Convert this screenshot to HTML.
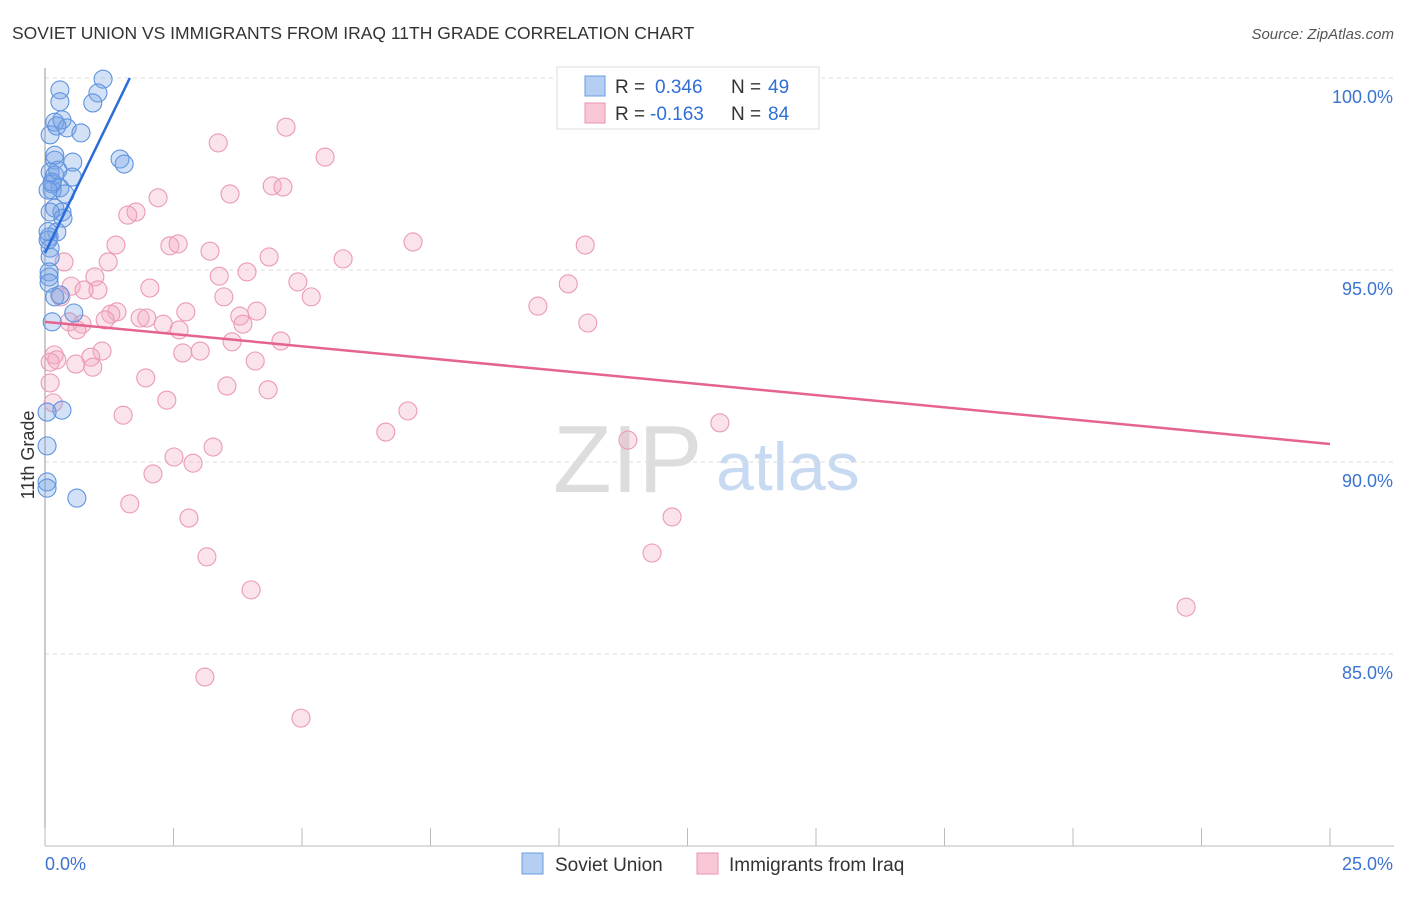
<!DOCTYPE html>
<html><head><meta charset="utf-8"><style>
body{margin:0;background:#fff;font-family:"Liberation Sans",sans-serif;}
svg text{font-family:"Liberation Sans",sans-serif;}
</style></head><body>
<svg id="chart" width="1406" height="892">
<text x="12" y="39" font-size="17.5" fill="#333">SOVIET UNION VS IMMIGRANTS FROM IRAQ 11TH GRADE CORRELATION CHART</text>
<text x="1394" y="39" font-size="15" fill="#555" text-anchor="end" font-style="italic">Source: ZipAtlas.com</text>
<g>
<text x="553" y="492" font-size="96" fill="#ddd" font-family="Liberation Serif">ZIP</text>
<text x="716" y="490" font-size="68" fill="#c8daf2">atlas</text>
</g>
<g id="grid"></g><g id="axes"></g><g id="marks"></g>
<text transform="translate(34,455) rotate(-90)" font-size="18" fill="#333" text-anchor="middle">11th Grade</text>
<g>
<rect x="557" y="67" width="262" height="62" fill="#fff" stroke="#ddd"/>
<rect x="585" y="76" width="20" height="20" fill="#b5cff3" stroke="#6b9be0"/>
<rect x="585" y="103" width="20" height="20" fill="#f9c6d5" stroke="#ea95b0"/>
<text x="615" y="93" font-size="19" fill="#333">R =</text>
<text x="655" y="93" font-size="19" fill="#2f6fd6">0.346</text>
<text x="731" y="93" font-size="19" fill="#333">N =</text>
<text x="768" y="93" font-size="19" fill="#2f6fd6">49</text>
<text x="615" y="120" font-size="19" fill="#333">R =</text>
<text x="650" y="120" font-size="19" fill="#2f6fd6">-0.163</text>
<text x="731" y="120" font-size="19" fill="#333">N =</text>
<text x="768" y="120" font-size="19" fill="#2f6fd6">84</text>
</g>
<g>
<rect x="522" y="853" width="21" height="21" fill="#b5cff3" stroke="#6b9be0"/>
<text x="555" y="871" font-size="19" fill="#333">Soviet Union</text>
<rect x="697" y="853" width="21" height="21" fill="#f9c6d5" stroke="#ea95b0"/>
<text x="729" y="871" font-size="19" fill="#333">Immigrants from Iraq</text>
</g>
</svg>
<script>
const xTicks=[0,2.5,5,7.5,10,12.5,15,17.5,20,22.5,25];
const yTicks=[85,90,95,100];
const yTickLabels=["85.0%","90.0%","95.0%","100.0%"];
const blueX=[1.13,0.29,1.03,0.29,0.93,0.19,0.33,0.43,0.70,0.10,1.46,1.54,0.19,0.54,0.10,0.19,0.53,0.14,0.29,0.14,0.39,0.19,0.33,0.35,0.23,0.08,0.10,0.10,0.08,0.08,0.08,0.19,0.29,0.56,0.14,0.33,0.04,0.04,0.04,0.04,0.62,0.14,0.06,0.25,0.06,0.19,0.10,0.23,0.06];
const blueY=[99.97,99.69,99.61,99.38,99.35,98.85,98.91,98.70,98.57,98.52,97.89,97.76,97.86,97.81,97.55,97.47,97.42,97.24,97.14,97.08,96.98,96.61,96.51,96.35,95.99,95.86,95.57,95.34,94.95,94.82,94.66,94.30,94.35,93.88,93.65,91.35,91.30,90.42,89.48,89.32,89.06,97.29,97.08,97.60,95.78,97.99,96.51,98.75,96.0];
const pinkX=[14.07,4.69,3.37,5.45,4.42,4.63,3.60,2.20,1.77,1.61,1.38,2.43,2.59,3.21,4.36,5.80,7.16,10.51,0.37,1.23,3.93,3.39,0.97,4.92,0.51,2.04,1.03,0.76,5.18,3.48,0.31,9.59,10.18,2.74,4.12,3.79,1.40,1.28,1.85,1.98,1.17,3.85,2.30,0.47,0.72,2.61,0.62,10.56,3.64,4.59,1.11,2.68,3.02,0.89,0.18,0.23,0.60,0.93,4.09,1.96,3.54,0.10,4.34,2.37,0.16,7.06,1.52,6.63,13.13,11.34,3.27,2.51,2.88,2.10,1.65,2.80,12.20,3.15,11.81,4.01,22.20,3.11,4.98,0.1];
const pinkY=[99.95,98.72,98.31,97.94,97.19,97.16,96.98,96.88,96.51,96.43,95.65,95.63,95.68,95.49,95.34,95.29,95.73,95.65,95.21,95.21,94.95,94.84,94.82,94.69,94.58,94.53,94.48,94.48,94.30,94.30,94.30,94.06,94.64,93.91,93.93,93.80,93.91,93.85,93.75,93.75,93.70,93.59,93.59,93.65,93.59,93.44,93.44,93.62,93.13,93.15,92.89,92.84,92.89,92.73,92.79,92.66,92.55,92.47,92.63,92.19,91.98,92.06,91.88,91.61,91.54,91.33,91.22,90.78,91.02,90.57,90.39,90.13,89.97,89.69,88.91,88.54,88.57,87.53,87.63,86.67,86.22,84.40,83.33,92.6];
const blueTrend=[[0,95.44],[1.65,100]];
const pinkTrend=[[0,93.65],[25,90.47]];
const X0=45,X1=1330,Y100=78,PX5=192;
const sx=v=>X0+(v/25)*(X1-X0);
const sy=v=>Y100+(100-v)/5*PX5;
const NS="http://www.w3.org/2000/svg";
function mk(tag,attrs,parent){const e=document.createElementNS(NS,tag);for(const k in attrs)e.setAttribute(k,attrs[k]);parent.appendChild(e);return e;}
const grid=document.getElementById('grid'),axes=document.getElementById('axes'),marks=document.getElementById('marks');
yTicks.forEach((t,i)=>{
 const l=mk('line',{x1:X0,x2:1394,y1:sy(t),y2:sy(t),stroke:'#ddd','stroke-dasharray':'4,4'},grid);
 
 
 const tx=mk('text',{x:1393,y:sy(t)+25,'font-size':18,fill:'#3b73d1','text-anchor':'end'},axes);
 tx.textContent=yTickLabels[i];
 
 
});
const ax=mk('line',{x1:X0,x2:X0,y1:68,y2:846,stroke:'#999'},axes);


const bx=mk('line',{x1:X0,x2:1394,y1:846,y2:846,stroke:'#bbb'},axes);


xTicks.forEach(t=>{
 const l=mk('line',{x1:sx(t),x2:sx(t),y1:828,y2:846,stroke:'#bbb'},axes);
 
 
});
[[0,"0.0%","start",45],[25,"25.0%","end",1393]].forEach(d=>{
 const tx=mk('text',{x:d[3],y:870,'font-size':18,fill:'#3b73d1','text-anchor':d[2]},axes);
 tx.textContent=d[1];
 
 
});
pinkX.forEach((v,i)=>{
 const c=mk('circle',{cx:sx(v),cy:sy(pinkY[i]),r:9,fill:'rgba(244,170,195,0.33)',stroke:'#eb9ab4','stroke-width':1.1},marks);
 
 
});
blueX.forEach((v,i)=>{
 const c=mk('circle',{cx:sx(v),cy:sy(blueY[i]),r:9,fill:'rgba(120,165,230,0.33)',stroke:'#5f93de','stroke-width':1.1},marks);
 
 
});
const tb=mk('line',{x1:sx(blueTrend[0][0]),y1:sy(blueTrend[0][1]),x2:sx(blueTrend[1][0]),y2:sy(blueTrend[1][1]),stroke:'#2a6dd9','stroke-width':2.5},marks);


const tp=mk('line',{x1:sx(pinkTrend[0][0]),y1:sy(pinkTrend[0][1]),x2:sx(pinkTrend[1][0]),y2:sy(pinkTrend[1][1]),stroke:'#e5638f','stroke-width':2.5},marks);


</script>
</body></html>
